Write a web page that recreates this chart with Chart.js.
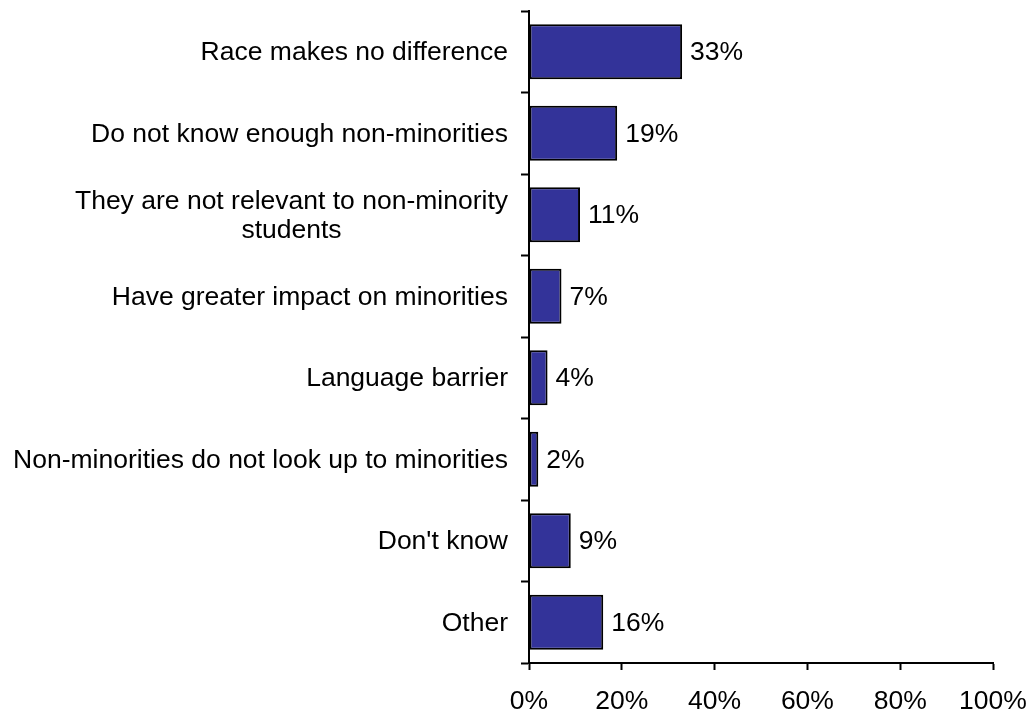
<!DOCTYPE html>
<html>
<head>
<meta charset="utf-8">
<script src="https://cdn.jsdelivr.net/npm/chart.js@4"></script>
<style>
    body { margin: 0; background: #fff; }
    #wrap { width: 1030px; height: 717px; }
</style>
</head>
<body>
<div id="wrap"><canvas id="raceChart"></canvas></div>
<script>
// chart data
const categories = [
    ["Race makes no difference"],
    ["Do not know enough non-minorities"],
    ["They are not relevant to non-minority", "students"],
    ["Have greater impact on minorities"],
    ["Language barrier"],
    ["Non-minorities do not look up to minorities"],
    ["Don't know"],
    ["Other"],
];
const percents = [33, 19, 11, 7, 4, 2, 9, 16];
const xTicks = [0, 20, 40, 60, 80, 100];

const FONT = "'Liberation Sans', Arial, sans-serif";
const SIZE = 26.5;

// category labels, each line centred on the label block, block right-aligned
const categoryLabels = {
    id: "categoryLabels",
    afterDraw(chart) {
        const ctx = chart.ctx;
        const yScale = chart.scales.y;
        const right = chart.chartArea.left - 21;
        ctx.save();
        ctx.font = SIZE + "px " + FONT;
        ctx.fillStyle = "#000";
        ctx.textBaseline = "middle";
        ctx.textAlign = "center";
        categories.forEach((lines, i) => {
            const y = yScale.getPixelForTick(i) + 1;
            const w = Math.max(...lines.map((l) => ctx.measureText(l).width));
            const cx = right - w / 2;
            const lh = 29;
            const start = y - ((lines.length - 1) * lh) / 2;
            lines.forEach((line, j) => ctx.fillText(line, cx, start + j * lh));
        });
        ctx.restore();
    },
};

// value labels at the bar ends
const valueLabels = {
    id: "valueLabels",
    afterDatasetsDraw(chart) {
        const ctx = chart.ctx;
        const meta = chart.getDatasetMeta(0);
        ctx.save();
        ctx.font = SIZE + "px " + FONT;
        ctx.fillStyle = "#000";
        ctx.textBaseline = "middle";
        ctx.textAlign = "left";
        meta.data.forEach((bar, i) => {
            ctx.fillText(percents[i] + "%", bar.x + 8, bar.y + 1);
        });
        ctx.restore();
    },
};

new Chart(document.getElementById("raceChart").getContext("2d"), {
    type: "bar",
    data: {
        labels: categories.map((c) => c.join(" ")),
        datasets: [
            {
                data: percents,
                backgroundColor: "#333399",
                borderColor: "#000",
                borderWidth: 2,
                borderSkipped: false,
                barPercentage: 0.675,
                categoryPercentage: 1,
            },
        ],
    },
    options: {
        indexAxis: "y",
        responsive: true,
        maintainAspectRatio: false,
        animation: false,
        layout: { padding: { top: 11, right: 37, left: 0, bottom: 0 } },
        plugins: {
            legend: { display: false },
            tooltip: { enabled: false },
        },
        scales: {
            x: {
                min: 0,
                max: 100,
                afterBuildTicks: (scale) => {
                    scale.ticks = xTicks.map((v) => ({ value: v }));
                },
                afterFit: (scale) => {
                    scale.height = 54;
                    scale.paddingLeft = 0;
                    scale.paddingRight = 0;
                },
                ticks: {
                    color: "#000",
                    font: { family: FONT, size: SIZE },
                    padding: 16,
                    maxRotation: 0,
                    callback: (v) => v + "%",
                },
                grid: {
                    drawOnChartArea: false,
                    drawTicks: true,
                    tickLength: 7,
                    tickWidth: 2,
                    tickColor: "#000",
                },
                border: { color: "#000", width: 2 },
            },
            y: {
                afterFit: (scale) => {
                    scale.width = 529;
                },
                ticks: {
                    display: false,
                },
                grid: {
                    offset: true,
                    drawOnChartArea: false,
                    drawTicks: true,
                    tickLength: 8,
                    tickWidth: 2,
                    tickColor: "#000",
                },
                border: { color: "#000", width: 2 },
            },
        },
    },
    plugins: [categoryLabels, valueLabels],
});
</script>
</body>
</html>
